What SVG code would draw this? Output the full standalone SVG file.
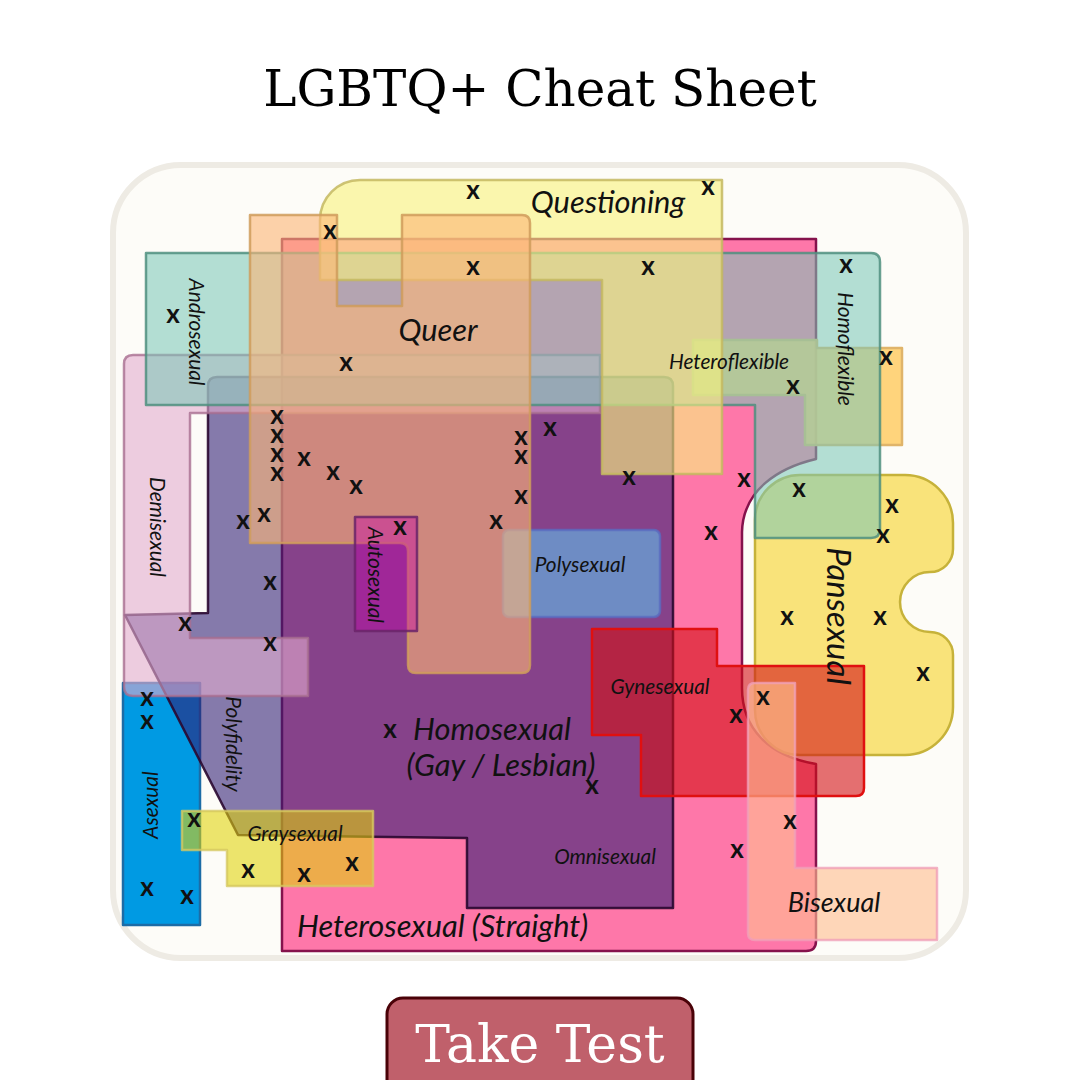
<svg xmlns="http://www.w3.org/2000/svg" width="1080" height="1080" viewBox="0 0 1080 1080">
<style>
.lbl{font-family:Lato,"Liberation Sans",sans-serif;font-style:italic;fill:#111}
.sm{font-size:20.8px}
.big{font-size:30.8px}
.vc{dominant-baseline:central;text-anchor:middle}
.mid{text-anchor:middle}
.x{font-family:Lato,"Liberation Sans",sans-serif;font-weight:bold;font-size:26px;fill:#111;text-anchor:middle}
.serif{font-family:"DejaVu Serif","Liberation Serif",serif}
.sh{stroke-width:2.5;stroke-linejoin:round}
</style>
<rect width="1080" height="1080" fill="#ffffff"/>
<text class="serif" x="540" y="106" font-size="50" text-anchor="middle" fill="#000">LGBTQ+ Cheat Sheet</text>
<rect id="panel" x="113" y="165" width="853" height="793" rx="68" fill="#fdfcf8" stroke="#eeebe4" stroke-width="6"/>
<g id="regions">
 <g id="heterosexual"><path class="sh" d="M282,239 H816 V459 C778,468 743,490 742,532 V688 C742,728 768,756 816,764 V941 Q816,951 806,951 H282 Z" fill="#fe77a9" stroke="#85124c" stroke-width="2"/></g>
 <g id="asexual"><rect class="sh" x="123" y="683" width="77" height="242" fill="#009ae3" stroke="#1c6ca6" stroke-width="2"/></g>
 <g id="homosexual"><path class="sh" d="M208,386 Q208,377 217,377 H664 Q673,377 673,386 V908 H467 V838 L238,835 L125,615 L208,613 Z" fill="#2e1c73" fill-opacity="0.58" stroke="#2a0830" stroke-opacity="0.9" stroke-width="2"/></g>
 <g id="pansexual"><path class="sh" d="M800,475 H905 A48,48 0 0 1 953,523 V549 A23,23 0 0 1 930,572 A30,30 0 0 0 930,632 A23,23 0 0 1 953,655 V707 A48,48 0 0 1 905,755 H800 A45,45 0 0 1 755,710 V520 A45,45 0 0 1 800,475 Z" fill="#f8e06c" fill-opacity="0.9" stroke="#c6b23a" stroke-width="3"/></g>
 <g id="heteroflexible"><path class="sh" d="M693,340 H817 V348 H902 V445 H805 V395 H693 Z" fill="#ffcf6e" fill-opacity="0.9" stroke="#e0b46a" stroke-width="2"/></g>
 <g id="polysexual"><rect class="sh" x="503" y="530" width="157" height="87" rx="6" fill="#66a5d7" fill-opacity="0.75" stroke="#5a6cc0" stroke-opacity="0.8"/></g>
 <g id="demisexual"><path class="sh" d="M124,364 Q124,355 133,355 H600 V413 H190 V638 H308 V696 H133 Q124,696 124,687 Z" fill="#e2acce" fill-opacity="0.6" stroke="#a86e90" stroke-opacity="0.8"/></g>
 <g id="androsexual-homoflexible"><path class="sh" d="M146,253 H871 Q880,253 880,262 V529 Q880,538 871,538 H755 V405 H146 Z" fill="#7bc6b7" fill-opacity="0.57" stroke="#4f8f7f" stroke-opacity="0.85"/></g>
 <g id="questioning"><path class="sh" d="M320,220 A40,40 0 0 1 360,180 H722 V474 H602 V280 H320 Z" fill="#f8f27f" fill-opacity="0.62" stroke="#c4b860" stroke-opacity="0.85"/></g>
 <g id="queer"><path class="sh" d="M250,215 H337 V306 H402 V215 H522 Q530,215 530,223 V665 Q530,673 522,673 H416 Q408,673 408,665 V551 Q408,543 400,543 H250 Z" fill="#fbb578" fill-opacity="0.61" stroke="#cf9c5c" stroke-opacity="0.85"/></g>
 <g id="autosexual"><rect class="sh" x="355" y="517" width="62" height="114" fill="#c800ac" fill-opacity="0.4" stroke="#6a2468" stroke-opacity="0.85"/></g>
 <g id="graysexual"><path class="sh" d="M182,811 H373 V886 H227 V850 H182 Z" fill="#e0d207" fill-opacity="0.58" stroke="#d6c860" stroke-opacity="0.8"/></g>
 <g id="gynesexual"><path class="sh" d="M592,629 H717 V666 H864 V788 Q864,796 856,796 H641 V735 H592 Z" fill="#d41115" fill-opacity="0.6" stroke="#e01010"/></g>
 <g id="bisexual"><path class="sh" d="M748,690 Q748,683 755,683 H795 V868 H937 V940 H755 Q748,940 748,933 Z" fill="#ffbe91" fill-opacity="0.62" stroke="#f0a0b8" stroke-opacity="0.8"/></g>
</g>
<g id="connectors"/>
<g id="labels">
 <text id="t-questioning" class="lbl big mid" x="608" y="213">Questioning</text>
 <text id="t-queer" class="lbl big mid" x="438" y="341">Queer</text>
 <text id="t-heteroflexible" class="lbl sm mid" x="729" y="369">Heteroflexible</text>
 <text id="t-polysexual" class="lbl sm mid" x="580" y="572">Polysexual</text>
 <text id="t-gynesexual" class="lbl sm mid" x="660" y="694">Gynesexual</text>
 <text id="t-omnisexual" class="lbl sm mid" x="605" y="864">Omnisexual</text>
 <text id="t-graysexual" class="lbl sm mid" x="295" y="841">Graysexual</text>
 <text id="t-homosexual" class="lbl big mid" x="492" y="740">Homosexual</text>
 <text id="t-gay" class="lbl big mid" x="501" y="776">(Gay / Lesbian)</text>
 <text id="t-heterosexual" class="lbl big" x="297" y="937">Heterosexual (Straight)</text>
 <text id="t-bisexual" class="lbl mid" x="834" y="912" font-size="27">Bisexual</text>
 <text id="t-androsexual" class="lbl sm vc" transform="translate(197,332) rotate(90)" font-size="21.5">Androsexual</text>
 <text id="t-homoflexible" class="lbl sm vc" transform="translate(846,349) rotate(90)">Homoflexible</text>
 <text id="t-demisexual" class="lbl sm vc" transform="translate(158,527) rotate(90)">Demisexual</text>
 <text id="t-autosexual" class="lbl sm vc" transform="translate(376,575) rotate(90)">Autosexual</text>
 <text id="t-polyfidelity" class="lbl sm vc" transform="translate(234,744) rotate(90)">Polyfidelity</text>
 <text id="t-asexual" class="lbl sm vc" transform="translate(149,805) rotate(-90)">Asexual</text>
 <text id="t-pansexual" class="lbl vc" transform="translate(840,616) rotate(90)" font-size="33">Pansexual</text>
</g>
<g id="marks">
 <text class="x" x="473" y="199">x</text>
 <text class="x" x="708" y="195">x</text>
 <text class="x" x="330" y="239">x</text>
 <text class="x" x="473" y="275">x</text>
 <text class="x" x="648" y="275">x</text>
 <text class="x" x="846" y="273">x</text>
 <text class="x" x="173" y="323">x</text>
 <text class="x" x="346" y="371">x</text>
 <text class="x" x="886" y="365">x</text>
 <text class="x" x="793" y="394">x</text>
 <text class="x" x="277" y="424">x</text>
 <text class="x" x="277" y="443">x</text>
 <text class="x" x="277" y="462">x</text>
 <text class="x" x="277" y="481">x</text>
 <text class="x" x="304" y="466">x</text>
 <text class="x" x="333" y="480">x</text>
 <text class="x" x="356" y="494">x</text>
 <text class="x" x="264" y="522">x</text>
 <text class="x" x="243" y="529">x</text>
 <text class="x" x="400" y="535">x</text>
 <text class="x" x="270" y="590">x</text>
 <text class="x" x="270" y="651">x</text>
 <text class="x" x="185" y="631">x</text>
 <text class="x" x="521" y="445">x</text>
 <text class="x" x="521" y="464">x</text>
 <text class="x" x="521" y="504">x</text>
 <text class="x" x="496" y="529">x</text>
 <text class="x" x="550" y="436">x</text>
 <text class="x" x="629" y="485">x</text>
 <text class="x" x="744" y="487">x</text>
 <text class="x" x="711" y="540">x</text>
 <text class="x" x="799" y="497">x</text>
 <text class="x" x="892" y="513">x</text>
 <text class="x" x="883" y="543">x</text>
 <text class="x" x="787" y="625">x</text>
 <text class="x" x="880" y="625">x</text>
 <text class="x" x="923" y="681">x</text>
 <text class="x" x="763" y="705">x</text>
 <text class="x" x="736" y="723">x</text>
 <text class="x" x="790" y="829">x</text>
 <text class="x" x="737" y="858">x</text>
 <text class="x" x="592" y="794">x</text>
 <text class="x" x="390" y="738">x</text>
 <text class="x" x="147" y="706">x</text>
 <text class="x" x="147" y="729">x</text>
 <text class="x" x="194" y="827">x</text>
 <text class="x" x="147" y="896">x</text>
 <text class="x" x="187" y="904">x</text>
 <text class="x" x="248" y="878">x</text>
 <text class="x" x="304" y="882">x</text>
 <text class="x" x="352" y="871">x</text>
</g>
<g id="take-test">
 <rect x="387" y="998" width="306" height="110" rx="16" fill="#c0606b" stroke="#4a0208" stroke-width="3"/>
 <text class="serif" x="540" y="1062" font-size="52" text-anchor="middle" fill="#ffffff">Take Test</text>
</g>
</svg>
